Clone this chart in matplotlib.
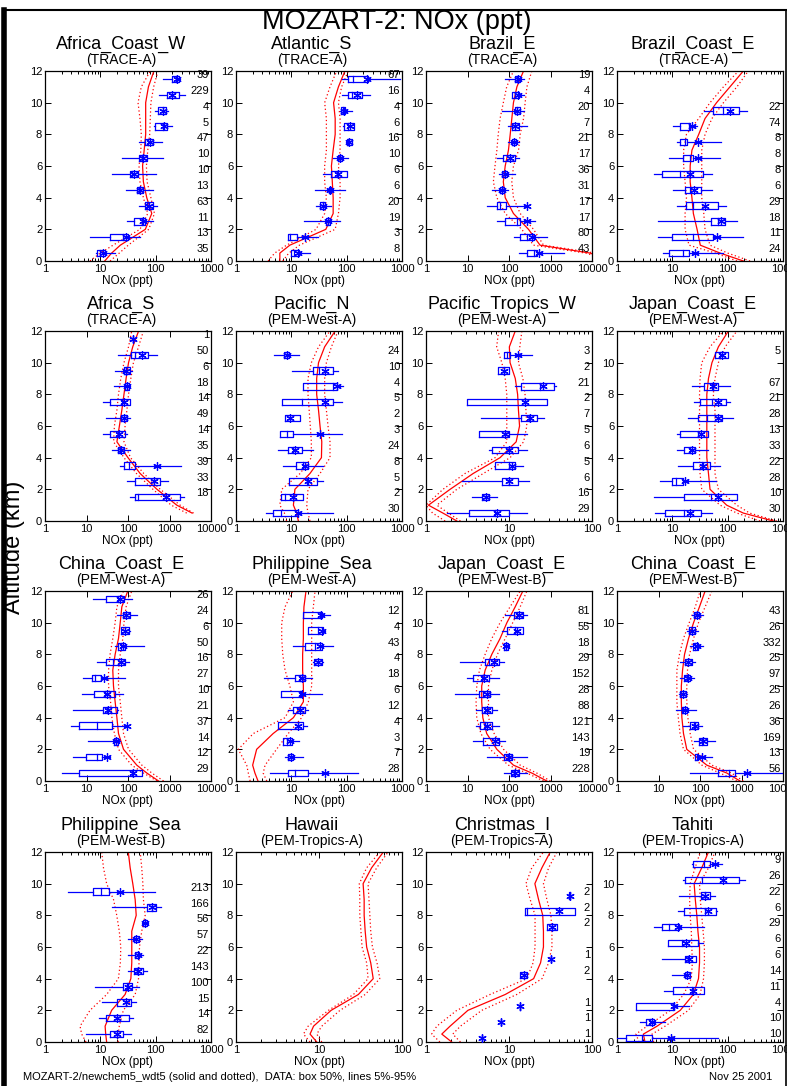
import numpy as np
import matplotlib
matplotlib.use("Agg")
import matplotlib.pyplot as plt
from matplotlib.lines import Line2D
from matplotlib.ticker import FixedLocator, LogLocator, NullFormatter

plt.rcParams['font.family'] = ['Liberation Sans', 'DejaVu Sans']

W, H = 787, 1086
BLUE = '#0000ff'
RED = '#ff0000'

# model profile altitudes (km)
model_alt = [0, 0.5, 1, 2, 3, 4, 5, 6, 7, 8, 9, 10, 11, 12]

# observations: (altitude, p5, p25, median, p75, p95, mean, n)
africa_coast_w = [
    (11.5, 133, 196, 232, 259, 278, 240, 39),
    (10.5, 113, 160, 196, 259, 342, 200, 229),
    (9.5, 98, 110, 133, 153, 166, 135, 4),
    (8.5, 94, 98, 138, 160, 196, 140, 5),
    (7.5, 49, 63, 72, 89, 130, 80, 47),
    (6.5, 25, 49, 56, 69, 135, 60, 10),
    (5.5, 16, 34, 37, 47, 100, 40, 10),
    (4.5, 29, 46, 49, 59, 88, 53, 13),
    (3.5, 51, 63, 69, 89, 105, 77, 63),
    (2.5, 30, 40, 56, 65, 89, 60, 11),
    (1.5, 6.4, 15, 26, 32, 53, 29, 13),
    (0.5, 8.4, 8.6, 10, 12, 18.5, 11, 35),
]
africa_coast_w_mid = [12, 16, 23, 65, 85, 69, 60, 58, 62, 66, 66, 66, 74, 93]
africa_coast_w_lo = [6.5, 10, 17, 52, 72, 60, 52, 50, 54, 55, 52, 48, 55, 80]
africa_coast_w_hi = [15, 22, 32, 75, 95, 82, 70, 68, 72, 78, 80, 82, 92, 110]

atlantic_s = [
    (11.5, 81, 107, 132, 246, 920, 230, 67),
    (10.5, 81, 107, 123, 186, 264, 151, 16),
    (9.5, 76, 78, 85, 93, 123, 88, 4),
    (8.5, 87, 89, 107, 136, 136, 115, 6),
    (7.5, 97, 100, 107, 123, 126, 112, 16),
    (6.5, 57, 71, 76, 84, 107, 76, 10),
    (5.5, 38, 53, 66, 100, 100, 69, 6),
    (4.5, 27, 47, 50, 53, 93, 50, 6),
    (3.5, 28, 33, 37, 41, 52, 37, 20),
    (2.5, 17, 42, 46, 49, 76, 46, 19),
    (1.5, 8.8, 8.8, 9.5, 12.5, 30.7, 17.6, 3),
    (0.5, 9.9, 9.9, 11, 13.8, 21.7, 13.4, 8),
]
atlantic_s_mid = [6.2, 6.2, 9.4, 42, 57, 57, 55, 53, 57, 62, 62, 58, 71, 93]
atlantic_s_lo = [3.8, 5, 8.2, 28, 40, 43, 40, 40, 43, 43, 43, 40, 50, 66]
atlantic_s_hi = [7, 9, 14, 62, 71, 76, 76, 71, 76, 76, 76, 71, 81, 107]

brazil_e = [
    (11.5, 81, 141, 155, 186, 224, 162, 19),
    (10.5, 117, 117, 141, 170, 224, 163, 4),
    (9.5, 67, 141, 155, 186, 224, 155, 20),
    (8.5, 97, 117, 141, 170, 270, 141, 7),
    (7.5, 97, 117, 134, 148, 170, 134, 21),
    (6.5, 51, 73, 103, 141, 170, 107, 17),
    (5.5, 59, 67, 78, 92, 141, 80, 36),
    (4.5, 38.6, 61, 68, 76, 97, 68, 31),
    (3.5, 29, 52.6, 61, 84, 270, 270, 17),
    (2.5, 52.6, 81, 155, 186, 430, 270, 17),
    (1.5, 133, 186, 270, 390, 818, 357, 80),
    (0.5, 176, 270, 390, 468, 2080, 516, 43),
]
brazil_e_mid = [30000, 9000, 560, 295, 128, 81, 73, 81, 97, 107, 117, 128, 155, 224]
brazil_e_lo = [30000, 7000, 390, 203, 81, 51, 42, 46, 51, 55, 61, 73, 88, 128]
brazil_e_hi = [30000, 12000, 680, 390, 186, 128, 117, 128, 170, 186, 224, 245, 270, 355]

brazil_coast_e = [
    (9.5, 38, 54, 84, 163, 222, 110, 22),
    (8.5, 10.2, 13.5, 19.7, 21, 27.8, 22.6, 74),
    (7.5, 12, 13.5, 17, 18.3, 76, 29.7, 8),
    (6.5, 8.6, 15.5, 21, 24, 73, 29.7, 8),
    (5.5, 4.6, 6.5, 13.9, 35.5, 51.5, 21, 8),
    (4.5, 10.2, 16.6, 21, 33, 51.5, 25, 6),
    (3.5, 12, 17.6, 24, 68, 94, 39, 29),
    (2.5, 5.6, 50, 68, 90, 150, 76, 18),
    (1.5, 5.6, 9.8, 24, 54, 187, 63, 11),
    (0.5, 6.9, 8.8, 15.5, 20.4, 84, 26, 24),
]
brazil_coast_e_mid = [192, 73, 32, 28, 24, 22.6, 21, 21, 22.6, 30, 39, 63, 110, 192]
brazil_coast_e_lo = [147, 60, 20, 17, 17, 18, 17, 16, 16, 18, 30, 48, 84, 157]
brazil_coast_e_hi = [254, 100, 48, 39, 37, 34, 34, 34, 34, 39, 52, 84, 147, 236]

africa_s = [
    (11.5, 135, 135, 135, 135, 135, 135, 1),
    (10.5, 59, 120, 149, 311, 500, 216, 50),
    (9.5, 49, 78, 90, 113, 123, 90, 6),
    (8.5, 45, 85, 94, 103, 113, 94, 18),
    (7.5, 25.6, 37, 71, 109, 113, 78, 14),
    (6.5, 30, 68, 81, 94, 113, 81, 49),
    (5.5, 25.6, 37, 59, 85, 94, 62, 14),
    (4.5, 41, 56, 65, 78, 113, 68, 35),
    (3.5, 65, 82, 103, 149, 1900, 500, 39),
    (2.5, 97, 144, 415, 600, 900, 425, 33),
    (1.5, 109, 149, 179, 1820, 2180, 835, 18),
]
africa_s_mid = [np.nan, 3500, 1500, 500, 196, 100, 54, 62, 71, 80, 90, 103, 130, 180]
africa_s_lo = [np.nan, 2600, 1100, 400, 160, 80, 45, 47, 54, 59, 67, 80, 103, 123]
africa_s_hi = [np.nan, 3800, 1800, 600, 240, 115, 80, 85, 94, 103, 117, 135, 179, 235]

pacific_n = [
    (10.5, 4.9, 7.4, 8.2, 9.2, 14, 8.5, 24),
    (9.5, 10.4, 25, 31, 57, 70, 40, 10),
    (8.5, 16, 16.5, 57, 66, 87, 66, 4),
    (7.5, 6.9, 6.9, 15.4, 57, 81, 40, 5),
    (6.5, 7.8, 7.8, 9.5, 14.4, 14.4, 9.5, 2),
    (5.5, 6.2, 6.2, 8.2, 10.9, 81, 33, 3),
    (4.5, 5.8, 8.8, 10.6, 15.4, 25, 11.6, 24),
    (3.5, 7.2, 12, 16, 20, 38, 17.6, 8),
    (2.5, 9.2, 9.2, 19, 28.7, 38, 20, 5),
    (1.5, 6.5, 6.5, 7.7, 16, 16, 10.9, 2),
    (0.5, 3.5, 4.6, 6.4, 13.4, 57, 13.4, 30),
]
pacific_n_mid = [13.4, 12.5, 10.9, 11.6, 21.7, 35, 35.5, 33, 31, 28.7, 28.7, 31, 40, 62]
pacific_n_lo = [8.2, 7.5, 6.2, 6.7, 14.4, 23, 23, 22, 21, 20, 20, 23, 31, 50]
pacific_n_hi = [21.7, 20, 19, 20, 33, 50, 50, 46, 43, 40, 40, 43, 53, 70]

pacific_tropics_w = [
    (10.5, 8.7, 8.7, 9.4, 10.3, 18.9, 12.8, 3),
    (9.5, 7.3, 7.3, 8.6, 10, 10, 8.6, 2),
    (8.5, 11.9, 13.9, 23.8, 34.5, 36.7, 25.6, 21),
    (7.5, 3.1, 3.1, 15.7, 28.6, 28.6, 15.7, 2),
    (6.5, 4.6, 13.9, 17.2, 21.7, 26.6, 18, 7),
    (5.5, 4.3, 4.3, 9.0, 9.9, 16.4, 9.0, 5),
    (4.5, 5.7, 6.2, 9.9, 12.7, 16.4, 10, 6),
    (3.5, 6.8, 6.8, 10.1, 11.9, 14.7, 10.8, 5),
    (2.5, 2.7, 8.2, 9.9, 12.7, 17.2, 10.1, 6),
    (1.5, 3.6, 4.7, 5.25, 5.8, 7.1, 5.25, 16),
    (0.5, 1.78, 3.3, 6.8, 9.9, 16.4, 7.1, 29),
]
pacific_tropics_w_mid = [2.35, 1.6, 1.07, 1.95, 3.7, 7.8, 12.2, 13.4, 13.0, 12.7, 11.9, 10.3, 10.1, 11.9]
pacific_tropics_w_lo = [1.7, 1.2, 1.0, 1.6, 2.95, 6.8, 9.4, 9.4, 9.4, 9.4, 9.0, 8.2, 7.1, 7.5]
pacific_tropics_w_hi = [2.6, 1.86, 1.35, 2.35, 4.9, 10.3, 15, 16.4, 16, 15.6, 14.7, 13, 13.5, 14.3]

japan_coast_e_a = [
    (10.5, 59, 59, 73, 103, 103, 78, 5),
    (8.5, 22.5, 37.6, 52, 68, 110, 55, 67),
    (7.5, 24.8, 31, 52, 94, 110, 68, 21),
    (6.5, 19, 28.5, 42, 78, 124, 68, 28),
    (5.5, 12, 13.5, 29.7, 45, 45, 32.7, 13),
    (4.5, 12, 16, 20.5, 26, 45, 22.5, 33),
    (3.5, 12.4, 24, 34, 47, 73, 36, 22),
    (2.5, 6.05, 9.8, 11.8, 15.5, 62, 17, 28),
    (1.5, 4.6, 16, 50, 146, 146, 68, 10),
    (0.5, 4.9, 7.5, 16, 32.7, 52, 21, 30),
]
japan_coast_e_a_mid = [670, 192, 96, 48, 45, 42, 42, 42, 42, 42, 45, 52, 68, 103]
japan_coast_e_a_lo = [385, 147, 73, 34, 31.7, 31, 31, 31, 31, 31, 31.7, 34, 48, 84]
japan_coast_e_a_hi = [770, 250, 146, 68, 59, 59, 59, 59, 59, 55, 59, 68, 90, 147]

china_coast_e_a = [
    (11.5, 14.7, 29.7, 59, 78, 123, 65, 26),
    (10.5, 54, 76, 90, 109, 163, 90, 24),
    (9.5, 68, 68, 85, 103, 110, 85, 6),
    (8.5, 49, 59, 67, 85, 237, 75, 50),
    (7.5, 17.7, 29.7, 44.7, 85, 103, 67, 16),
    (6.5, 8.1, 13.4, 16.1, 22, 85, 26.6, 27),
    (5.5, 7.7, 15.2, 28, 49, 75, 30.8, 10),
    (4.5, 4.8, 24.7, 30.8, 54, 59, 33.8, 21),
    (3.5, 4.2, 6.7, 17.7, 40.7, 94, 94, 37),
    (2.5, 11.1, 47, 52, 59, 65, 52, 14),
    (1.5, 4.8, 9.6, 17.7, 23.4, 37, 30.8, 12),
    (0.5, 2.5, 6.7, 123, 216, 216, 135, 29),
]
china_coast_e_a_mid = [545, 285, 163, 78, 59, 54, 49, 44.7, 43, 49, 59, 65, 71, 99]
china_coast_e_a_lo = [500, 236, 123, 59, 47, 41, 38, 34, 34, 37, 43, 49, 54, 78]
china_coast_e_a_hi = [720, 377, 216, 103, 78, 71, 65, 59, 59, 65, 75, 80, 90, 123]

philippine_sea_a = [
    (10.5, 16.5, 16.5, 33, 35.3, 50, 34, 12),
    (9.5, 20.3, 20.3, 30.8, 37.9, 40.6, 35.3, 4),
    (8.5, 10.9, 17.7, 26.8, 35.3, 57, 33, 43),
    (7.5, 25, 25.7, 30.8, 35.3, 37.9, 30.8, 4),
    (6.5, 7.5, 11.6, 14.3, 17.7, 23.3, 15.4, 18),
    (5.5, 6.5, 6.5, 14.3, 14.8, 35.3, 15.8, 6),
    (4.5, 8.8, 10.6, 14.3, 17.7, 20.3, 14.3, 12),
    (3.5, 5.7, 5.7, 13.4, 16, 18.9, 13.4, 4),
    (2.5, 7.0, 7.0, 8.5, 10.1, 14, 9.5, 3),
    (1.5, 7.7, 8.8, 9.7, 10.9, 16, 9.7, 7),
    (0.5, 4.1, 8.8, 11.6, 20.3, 162, 40.6, 28),
]
philippine_sea_a_mid = [2.5, 2.2, 2.0, 2.36, 4.7, 10.9, 16.5, 16.5, 16, 16, 16.5, 16.5, 16.9, 18.4]
philippine_sea_a_lo = [1.8, 1.67, 1.56, 1.1, 2.06, 7.7, 10.9, 9.4, 7.7, 7.0, 6.7, 6.7, 7.7, 10.6]
philippine_sea_a_hi = [3.6, 3.1, 3.35, 5.4, 8.8, 15.4, 20.3, 23.3, 23.3, 23.3, 23.3, 23.3, 25, 26.8]

japan_coast_e_b = [
    (10.5, 81, 133, 160, 216, 270, 170, 81),
    (9.5, 67, 89, 141, 216, 216, 155, 55),
    (8.5, 74, 74, 85, 97, 100, 85, 18),
    (7.5, 6.6, 26.6, 33.8, 56, 74, 43.8, 29),
    (6.5, 9.6, 13.4, 22, 33.8, 59, 25, 152),
    (5.5, 5.0, 19.4, 24, 35, 56, 29, 28),
    (4.5, 16.1, 22, 26.6, 38.5, 51, 30, 88),
    (3.5, 16.1, 20, 26.6, 38.5, 59, 29, 121),
    (2.5, 13.9, 23.4, 46, 59, 81, 46, 143),
    (1.5, 30, 74, 97, 117, 270, 102, 19),
    (0.5, 76, 111, 133, 170, 270, 141, 228),
]
japan_coast_e_b_mid = [815, 356, 128, 51, 29, 23.4, 22, 22, 26.6, 38.5, 61, 89, 141, 216]
japan_coast_e_b_lo = [680, 270, 97, 35, 21, 16.7, 16.1, 16.7, 19.4, 26.6, 38.5, 61, 106, 186]
japan_coast_e_b_hi = [1000, 468, 186, 74, 43.8, 32, 32, 32, 38.5, 52.6, 81, 123, 186, 270]

china_coast_e_b = [
    (10.5, 64, 72, 84, 97, 121, 84, 43),
    (9.5, 48, 55, 64, 77, 92, 64, 26),
    (8.5, 58, 67, 77, 92, 121, 84, 332),
    (7.5, 33, 44, 51, 64, 77, 51, 25),
    (6.5, 33, 41.6, 48, 58, 72, 51, 97),
    (5.5, 32, 33, 38.7, 46, 48, 38.7, 25),
    (4.5, 26.7, 36.6, 40, 48, 81, 44, 26),
    (3.5, 40, 58, 72, 92, 111, 77, 36),
    (2.5, 70, 97, 111, 146, 232, 121, 169),
    (1.5, 77, 77, 84, 92, 193, 111, 13),
    (0.5, 58, 279, 512, 700, 10000, 1340, 56),
]
china_coast_e_b_mid = [920, 445, 146, 48, 40, 36.6, 35.5, 35.5, 38, 42.4, 53, 70, 97, 133]
china_coast_e_b_lo = [770, 305, 111, 40, 33, 30, 27.7, 27.7, 27.7, 32, 40, 55, 77, 101]
china_coast_e_b_hi = [1100, 580, 193, 70, 58, 51, 48, 48, 50, 56, 70, 92, 133, 193]

philippine_sea_b = [
    (9.5, 2.6, 7.5, 10.2, 14.6, 98, 22.8, 213),
    (8.5, 16.1, 69, 85, 102, 124, 85, 166),
    (7.5, 56, 58.7, 64.6, 71, 74, 64.6, 56),
    (6.5, 31.4, 40.9, 44.5, 49, 56, 44.5, 57),
    (5.5, 32, 42.6, 47, 51, 60, 47, 22),
    (4.5, 31, 40, 45.7, 58.7, 69, 47.6, 143),
    (3.5, 8.0, 25.5, 30, 37, 49, 31, 100),
    (2.5, 10.6, 20.4, 29, 35.6, 44.5, 29, 15),
    (1.5, 9.6, 12.7, 20.4, 33.6, 38.7, 20.4, 14),
    (0.5, 5.5, 15, 19.8, 26, 35.6, 20.4, 82),
]
philippine_sea_b_mid = [13, 12.5, 12.2, 16, 28, 35.6, 37, 37, 37, 44.5, 42.6, 38.6, 34.6, 32]
philippine_sea_b_lo = [5.5, 4.6, 4.3, 6.5, 13, 21.2, 23, 23.4, 22, 19.8, 17.3, 13, 11.4, 10.6]
philippine_sea_b_hi = [21, 21, 22, 26, 42.6, 49, 50, 51, 56, 64.6, 60, 58.7, 56, 52.6]

hawaii = []
hawaii_mid = [9.4, 7.8, 8.6, 14, 29.8, 45, 42, 37.5, 36, 35, 35, 34, 43, 59.6]
hawaii_lo = [7.8, 6.5, 7.4, 13, 26, 39, 37.5, 33, 32, 31, 31, 30.6, 37.5, 54]
hawaii_hi = [10.8, 9.4, 10.8, 17.9, 36, 54, 50, 44, 42, 41, 40, 39, 49.5, 68]

christmas_i = [
    (9.25, 53, 53, 54, 55, 55, 54, 2),
    (8.25, 15.7, 15.7, 16.4, 63, 63, 39.6, 2),
    (7.25, 28.6, 28.6, 32.9, 37.8, 37.8, 32.9, 2),
    (5.25, 32, 32, 32, 32, 32, 32, 1),
    (4.25, 13.6, 13.6, 15, 16.4, 16.4, 15, 2),
    (2.25, 13.6, 13.6, 13.6, 13.6, 13.6, 13.6, 1),
    (1.25, 8.0, 8.0, 8.0, 8.0, 8.0, 8.0, 1),
    (0.25, 4.7, 4.7, 4.7, 4.7, 4.7, 4.7, 1),
]
christmas_i_mid = [2.04, 1.55, 1.95, 3.2, 9.0, 19.8, 24, 26, 26, 25.5, 22.7, 20.5, 24.9, 31.4]
christmas_i_lo = [1.47, 1.17, 1.35, 2.35, 5.9, 16.4, 19.5, 20.6, 20.6, 20.6, 18, 16, 18.8, 26]
christmas_i_hi = [2.6, 2.1, 2.6, 4.7, 12.4, 25, 30, 32.9, 32.9, 32, 28.6, 26, 30, 37.8]

tahiti = [
    (11.25, 22.5, 23.5, 36.6, 48, 78, 59, 9),
    (10.25, 15.5, 17.1, 34, 157, 207, 82, 26),
    (9.25, 13, 32.7, 39, 48, 59, 39, 22),
    (8.25, 12.4, 16, 39, 62, 64, 45, 6),
    (7.25, 4.6, 6.5, 8.6, 13, 36.6, 12.4, 29),
    (6.25, 8.2, 8.2, 14.9, 29.7, 35.6, 17.8, 6),
    (5.25, 6.5, 17.1, 19, 27, 27, 19.6, 6),
    (4.25, 9.8, 17.1, 18.3, 21, 21, 18.3, 14),
    (3.25, 7, 10.2, 22.5, 36.6, 36.6, 24, 11),
    (2.25, 2.2, 2.2, 10.2, 10.8, 19.6, 10.5, 4),
    (1.25, 2.6, 3.4, 3.9, 4.7, 7.4, 4.3, 10),
    (0.25, 1.0, 1.47, 2.8, 4.3, 68, 9.6, 10),
]
tahiti_mid = [3.2, 3.0, 5.3, 13.9, 24, 29.7, 31, 31, 29, 27.7, 26, 24.8, 34, 45]
tahiti_lo = [2.5, 2.2, 3.5, 9.2, 16, 22, 23, 22.5, 22, 21, 20.5, 21, 25.8, 32]
tahiti_hi = [4.6, 4.3, 7.4, 19.6, 31.7, 36.6, 38, 38, 36, 34, 32, 31, 45, 59]

panels = [
    ("Africa_Coast_W", "(TRACE-A)", 1000, africa_coast_w, africa_coast_w_lo, africa_coast_w_mid, africa_coast_w_hi),
    ("Atlantic_S", "(TRACE-A)", 1000, atlantic_s, atlantic_s_lo, atlantic_s_mid, atlantic_s_hi),
    ("Brazil_E", "(TRACE-A)", 10000, brazil_e, brazil_e_lo, brazil_e_mid, brazil_e_hi),
    ("Brazil_Coast_E", "(TRACE-A)", 1000, brazil_coast_e, brazil_coast_e_lo, brazil_coast_e_mid, brazil_coast_e_hi),
    ("Africa_S", "(TRACE-A)", 10000, africa_s, africa_s_lo, africa_s_mid, africa_s_hi),
    ("Pacific_N", "(PEM-West-A)", 1000, pacific_n, pacific_n_lo, pacific_n_mid, pacific_n_hi),
    ("Pacific_Tropics_W", "(PEM-West-A)", 100, pacific_tropics_w, pacific_tropics_w_lo, pacific_tropics_w_mid, pacific_tropics_w_hi),
    ("Japan_Coast_E", "(PEM-West-A)", 1000, japan_coast_e_a, japan_coast_e_a_lo, japan_coast_e_a_mid, japan_coast_e_a_hi),
    ("China_Coast_E", "(PEM-West-A)", 10000, china_coast_e_a, china_coast_e_a_lo, china_coast_e_a_mid, china_coast_e_a_hi),
    ("Philippine_Sea", "(PEM-West-A)", 1000, philippine_sea_a, philippine_sea_a_lo, philippine_sea_a_mid, philippine_sea_a_hi),
    ("Japan_Coast_E", "(PEM-West-B)", 10000, japan_coast_e_b, japan_coast_e_b_lo, japan_coast_e_b_mid, japan_coast_e_b_hi),
    ("China_Coast_E", "(PEM-West-B)", 10000, china_coast_e_b, china_coast_e_b_lo, china_coast_e_b_mid, china_coast_e_b_hi),
    ("Philippine_Sea", "(PEM-West-B)", 1000, philippine_sea_b, philippine_sea_b_lo, philippine_sea_b_mid, philippine_sea_b_hi),
    ("Hawaii", "(PEM-Tropics-A)", 100, hawaii, hawaii_lo, hawaii_mid, hawaii_hi),
    ("Christmas_I", "(PEM-Tropics-A)", 100, christmas_i, christmas_i_lo, christmas_i_mid, christmas_i_hi),
    ("Tahiti", "(PEM-Tropics-A)", 1000, tahiti, tahiti_lo, tahiti_mid, tahiti_hi),
]

col_left = [45, 236, 426, 617]
row_bottom = [261, 521, 781, 1042]
ax_w, ax_h = 166, 190
box_h = 0.2

fig = plt.figure(figsize=(W / 100, H / 100), dpi=100)

for i, (name, campaign, xmax, boxes, lo, mid, hi) in enumerate(panels):
    row, col = divmod(i, 4)
    left = col_left[col]
    bottom = row_bottom[row]
    top = bottom - ax_h
    ax = fig.add_axes([left / W, 1 - bottom / H, ax_w / W, ax_h / H])
    ax.set_xscale('log')

    ax.plot(mid, model_alt, color=RED, lw=0.9, zorder=2)
    ax.plot(lo, model_alt, color=RED, lw=0.9, ls=(0, (1, 2)), zorder=2)
    ax.plot(hi, model_alt, color=RED, lw=0.9, ls=(0, (1, 2)), zorder=2)

    for alt, p5, p25, p50, p75, p95, mean, n in boxes:
        ax.plot([p5, p25], [alt, alt], color=BLUE, lw=0.9, zorder=3)
        ax.plot([p75, p95], [alt, alt], color=BLUE, lw=0.9, zorder=3)
        ax.plot([p25, p75, p75, p25, p25],
                [alt - box_h, alt - box_h, alt + box_h, alt + box_h, alt - box_h],
                color=BLUE, lw=0.9, zorder=3)
        ax.plot([p50, p50], [alt - box_h, alt + box_h], color=BLUE, lw=0.9, zorder=3)
        ax.plot([mean], [alt], marker=(6, 2, 0), ms=6, mew=0.9, color=BLUE, zorder=4)
        ax.text(0.988, alt + 0.05, str(n), transform=ax.get_yaxis_transform(),
                ha='right', va='baseline', fontsize=8)

    ax.set_xlim(1, xmax)
    ax.set_ylim(0, 12)
    ndec = int(round(np.log10(xmax)))
    ax.xaxis.set_major_locator(FixedLocator([10 ** k for k in range(ndec + 1)]))
    ax.set_xticklabels([str(10 ** k) for k in range(ndec + 1)])
    ax.xaxis.set_minor_locator(LogLocator(base=10, subs=np.arange(2, 10)))
    ax.xaxis.set_minor_formatter(NullFormatter())
    ax.set_yticks(range(0, 13, 2))
    ax.tick_params(which='both', direction='in', top=True, right=True,
                   labelsize=8, pad=2, width=0.7)
    ax.tick_params(which='major', length=4)
    ax.tick_params(which='minor', length=2)
    for s in ax.spines.values():
        s.set_linewidth(0.9)
    ax.set_xlabel('NOx (ppt)', fontsize=8.5, labelpad=1)

    cx = (left + ax_w / 2 - 7) / W
    fig.text(cx, 1 - (top - 27) / H, name, ha='center', va='center', fontsize=13)
    fig.text(cx, 1 - (top - 11) / H, campaign, ha='center', va='center', fontsize=10)

fig.text(397 / W, 1 - 22 / H, 'MOZART-2: NOx (ppt)', ha='center', va='center', fontsize=19.5)
fig.text(14 / W, 1 - 547 / H, 'Altitude (km)', rotation=90, ha='center', va='center', fontsize=17)
fig.text(23 / W, 1 - 1077 / H,
         'MOZART-2/newchem5_wdt5 (solid and dotted),  DATA: box 50%, lines 5%-95%',
         ha='left', va='center', fontsize=8)
fig.text(772 / W, 1 - 1077 / H, 'Nov 25 2001', ha='right', va='center', fontsize=8)

# outer frame
fig.add_artist(Line2D([5 / W, 786 / W], [1 - 10 / H, 1 - 10 / H], color='black', lw=1.5))
fig.add_artist(Line2D([4 / W, 4 / W], [0, 1 - 10 / H], color='black', lw=4))
fig.add_artist(Line2D([786 / W, 786 / W], [0, 1 - 10 / H], color='black', lw=1.2))

fig.savefig('out.png', dpi=100)
